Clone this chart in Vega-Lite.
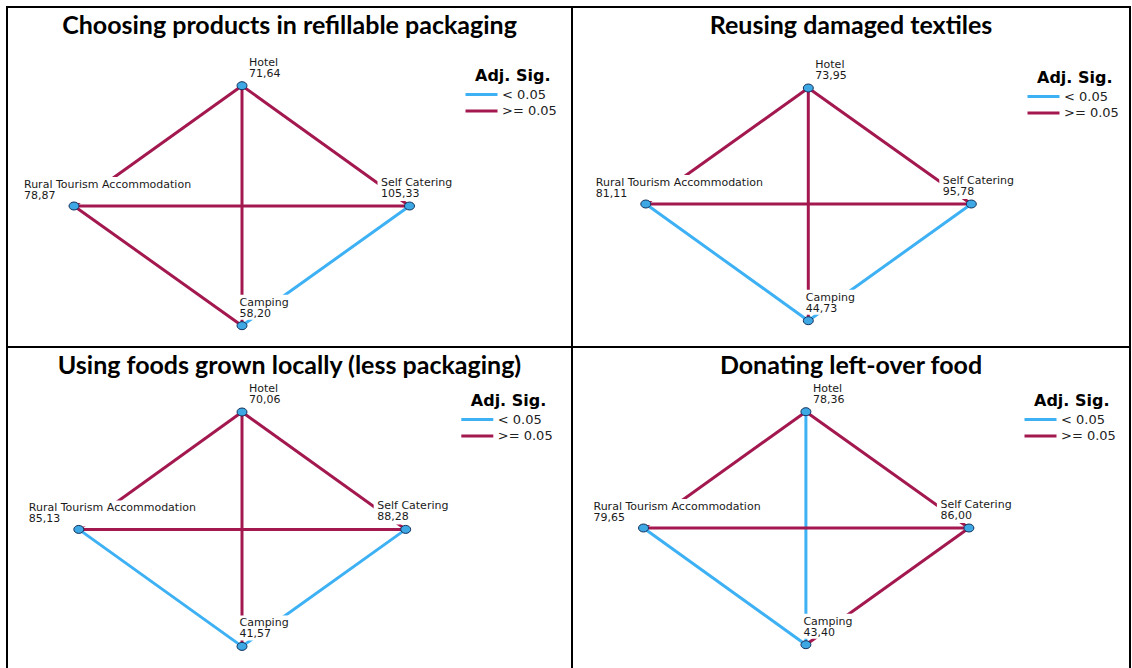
{
  "$schema": "https://vega.github.io/schema/vega-lite/v6.json",
  "padding": {"left": 6, "top": 6, "right": 0, "bottom": 0},
  "bounds": "flush",
  "spacing": 0,
  "columns": 2,
  "resolve": {"scale": {"color": "independent"}, "legend": {"color": "independent"}},
  "config": {
    "view": {"stroke": "#000000", "strokeWidth": 2},
    "locale": {"number": {"decimal": ",", "thousands": ".", "grouping": [3], "currency": ["", ""]}},
    "title": {"font": "Lato", "fontSize": 25, "fontWeight": "bold", "color": "#000000", "anchor": "middle", "frame": "group", "baseline": "alphabetic", "offset": -32},
    "legend": {"orient": "none", "titleFont": "DejaVu Sans", "titleFontSize": 16, "titleFontWeight": "bold", "titleColor": "#000000", "labelFont": "DejaVu Sans", "labelFontSize": 13, "labelColor": "#222222", "symbolType": "M-16,0H16", "symbolSize": 4, "symbolStrokeWidth": 3, "labelOffset": 14, "rowPadding": 2.5, "titlePadding": 4, "padding": 0}
  },
  "datasets": {
    "nodes": [
      {"id": "1H", "panel": 1, "node": "Hotel", "rank": 71.64, "x": 235, "y": 78.7},
      {"id": "1R", "panel": 1, "node": "Rural Tourism Accommodation", "rank": 78.87, "x": 67, "y": 199},
      {"id": "1S", "panel": 1, "node": "Self Catering", "rank": 105.33, "x": 402.5, "y": 199},
      {"id": "1C", "panel": 1, "node": "Camping", "rank": 58.20, "x": 235, "y": 318.7},
      {"id": "2H", "panel": 2, "node": "Hotel", "rank": 73.95, "x": 236.3, "y": 81},
      {"id": "2R", "panel": 2, "node": "Rural Tourism Accommodation", "rank": 81.11, "x": 73.8, "y": 197},
      {"id": "2S", "panel": 2, "node": "Self Catering", "rank": 95.78, "x": 399.3, "y": 197},
      {"id": "2C", "panel": 2, "node": "Camping", "rank": 44.73, "x": 236.3, "y": 313.7},
      {"id": "3H", "panel": 3, "node": "Hotel", "rank": 70.06, "x": 235, "y": 65},
      {"id": "3R", "panel": 3, "node": "Rural Tourism Accommodation", "rank": 85.13, "x": 71.8, "y": 182.4},
      {"id": "3S", "panel": 3, "node": "Self Catering", "rank": 88.28, "x": 398.7, "y": 182.4},
      {"id": "3C", "panel": 3, "node": "Camping", "rank": 41.57, "x": 235, "y": 299.4},
      {"id": "4H", "panel": 4, "node": "Hotel", "rank": 78.36, "x": 233.9, "y": 64.7},
      {"id": "4R", "panel": 4, "node": "Rural Tourism Accommodation", "rank": 79.65, "x": 71.5, "y": 181},
      {"id": "4S", "panel": 4, "node": "Self Catering", "rank": 86.00, "x": 396.9, "y": 181},
      {"id": "4C", "panel": 4, "node": "Camping", "rank": 43.40, "x": 233.9, "y": 297.7}
    ],
    "edges": [
      {"panel": 1, "source": "1H", "target": "1R", "sig": ">= 0.05"},
      {"panel": 1, "source": "1H", "target": "1S", "sig": ">= 0.05"},
      {"panel": 1, "source": "1H", "target": "1C", "sig": ">= 0.05"},
      {"panel": 1, "source": "1R", "target": "1S", "sig": ">= 0.05"},
      {"panel": 1, "source": "1R", "target": "1C", "sig": ">= 0.05"},
      {"panel": 1, "source": "1S", "target": "1C", "sig": "< 0.05"},
      {"panel": 2, "source": "2H", "target": "2R", "sig": ">= 0.05"},
      {"panel": 2, "source": "2H", "target": "2S", "sig": ">= 0.05"},
      {"panel": 2, "source": "2H", "target": "2C", "sig": ">= 0.05"},
      {"panel": 2, "source": "2R", "target": "2S", "sig": ">= 0.05"},
      {"panel": 2, "source": "2R", "target": "2C", "sig": "< 0.05"},
      {"panel": 2, "source": "2S", "target": "2C", "sig": "< 0.05"},
      {"panel": 3, "source": "3H", "target": "3R", "sig": ">= 0.05"},
      {"panel": 3, "source": "3H", "target": "3S", "sig": ">= 0.05"},
      {"panel": 3, "source": "3H", "target": "3C", "sig": ">= 0.05"},
      {"panel": 3, "source": "3R", "target": "3S", "sig": ">= 0.05"},
      {"panel": 3, "source": "3R", "target": "3C", "sig": "< 0.05"},
      {"panel": 3, "source": "3S", "target": "3C", "sig": "< 0.05"},
      {"panel": 4, "source": "4H", "target": "4R", "sig": ">= 0.05"},
      {"panel": 4, "source": "4H", "target": "4S", "sig": ">= 0.05"},
      {"panel": 4, "source": "4H", "target": "4C", "sig": "< 0.05"},
      {"panel": 4, "source": "4R", "target": "4S", "sig": ">= 0.05"},
      {"panel": 4, "source": "4R", "target": "4C", "sig": "< 0.05"},
      {"panel": 4, "source": "4S", "target": "4C", "sig": ">= 0.05"}
    ]
  },
  "concat": [
    {
      "width": 565, "height": 340,
      "title": "Choosing products in refillable packaging",
      "layer": [
        {"data": {"name": "edges"}, "transform": [{"filter": "datum.panel === 1"}, {"lookup": "source", "from": {"data": {"name": "nodes"}, "key": "id", "fields": ["x", "y"]}, "as": ["x1", "y1"]}, {"lookup": "target", "from": {"data": {"name": "nodes"}, "key": "id", "fields": ["x", "y"]}, "as": ["x2", "y2"]}],
         "mark": {"type": "rule", "strokeWidth": 3},
         "encoding": {"x": {"field": "x1", "type": "quantitative", "scale": {"domain": [0, 565], "nice": false, "zero": false}, "axis": null}, "y": {"field": "y1", "type": "quantitative", "scale": {"domain": [0, 340], "nice": false, "zero": false, "reverse": true}, "axis": null}, "x2": {"field": "x2"}, "y2": {"field": "y2"},
           "color": {"field": "sig", "type": "nominal", "scale": {"domain": ["< 0.05", ">= 0.05"], "range": ["#3db1f4", "#a3184f"]}, "legend": {"title": "Adj. Sig.", "legendX": 468, "legendY": 61}}}},
        {"data": {"name": "nodes"}, "transform": [{"filter": "datum.panel === 1"}],
         "mark": {"type": "point", "filled": true, "size": 4, "opacity": 1, "color": "#ffffff"},
         "encoding": {"x": {"field": "x", "type": "quantitative"}, "y": {"field": "y", "type": "quantitative"}, "shape": {"field": "node", "type": "nominal", "scale": {"domain": ["Hotel", "Rural Tourism Accommodation", "Self Catering", "Camping"], "range": ["M-2,-32H42V-5H-2Z", "M-52,-29H136V-3H-52Z", "M-32,-28H56V-5H-32Z", "M-4,-31H52V-6H-4Z"]}, "legend": null}}},
        {"data": {"name": "nodes"}, "transform": [{"filter": "datum.panel === 1"}],
         "mark": {"type": "point", "filled": true, "size": 4, "opacity": 1, "shape": "M-5,0A5,4 0 1,0 5,0A5,4 0 1,0 -5,0Z", "fill": "#3ea8e5", "stroke": "#16325c", "strokeWidth": 1},
         "encoding": {"x": {"field": "x", "type": "quantitative"}, "y": {"field": "y", "type": "quantitative"}}},
        {"data": {"name": "nodes"}, "transform": [{"filter": "datum.panel === 1"}],
         "mark": {"type": "text", "align": "left", "baseline": "alphabetic", "font": "DejaVu Sans", "fontSize": 11, "color": "#1a1a1a",
           "dx": {"expr": "datum.node === 'Hotel' ? 7 : datum.node === 'Camping' ? -2.5 : datum.node === 'Self Catering' ? -28.5 : -50"},
           "dy": {"expr": "datum.node === 'Rural Tourism Accommodation' ? -18 : -20"}},
         "encoding": {"x": {"field": "x", "type": "quantitative"}, "y": {"field": "y", "type": "quantitative"}, "text": {"field": "node"}}},
        {"data": {"name": "nodes"}, "transform": [{"filter": "datum.panel === 1"}],
         "mark": {"type": "text", "align": "left", "baseline": "alphabetic", "font": "DejaVu Sans", "fontSize": 11, "color": "#1a1a1a",
           "dx": {"expr": "datum.node === 'Hotel' ? 7 : datum.node === 'Camping' ? -2.5 : datum.node === 'Self Catering' ? -28.5 : -50"},
           "dy": {"expr": "datum.node === 'Rural Tourism Accommodation' ? -7 : -9"}},
         "encoding": {"x": {"field": "x", "type": "quantitative"}, "y": {"field": "y", "type": "quantitative"}, "text": {"field": "rank", "type": "quantitative", "format": ".2f"}}}
      ]
    },
    {
      "width": 558, "height": 340,
      "title": "Reusing damaged textiles",
      "layer": [
        {"data": {"name": "edges"}, "transform": [{"filter": "datum.panel === 2"}, {"lookup": "source", "from": {"data": {"name": "nodes"}, "key": "id", "fields": ["x", "y"]}, "as": ["x1", "y1"]}, {"lookup": "target", "from": {"data": {"name": "nodes"}, "key": "id", "fields": ["x", "y"]}, "as": ["x2", "y2"]}],
         "mark": {"type": "rule", "strokeWidth": 3},
         "encoding": {"x": {"field": "x1", "type": "quantitative", "scale": {"domain": [0, 558], "nice": false, "zero": false}, "axis": null}, "y": {"field": "y1", "type": "quantitative", "scale": {"domain": [0, 340], "nice": false, "zero": false, "reverse": true}, "axis": null}, "x2": {"field": "x2"}, "y2": {"field": "y2"},
           "color": {"field": "sig", "type": "nominal", "scale": {"domain": ["< 0.05", ">= 0.05"], "range": ["#3db1f4", "#a3184f"]}, "legend": {"title": "Adj. Sig.", "legendX": 465, "legendY": 63}}}},
        {"data": {"name": "nodes"}, "transform": [{"filter": "datum.panel === 2"}],
         "mark": {"type": "point", "filled": true, "size": 4, "opacity": 1, "color": "#ffffff"},
         "encoding": {"x": {"field": "x", "type": "quantitative"}, "y": {"field": "y", "type": "quantitative"}, "shape": {"field": "node", "type": "nominal", "scale": {"domain": ["Hotel", "Rural Tourism Accommodation", "Self Catering", "Camping"], "range": ["M-2,-32H42V-5H-2Z", "M-52,-29H136V-3H-52Z", "M-32,-28H56V-5H-32Z", "M-4,-31H52V-6H-4Z"]}, "legend": null}}},
        {"data": {"name": "nodes"}, "transform": [{"filter": "datum.panel === 2"}],
         "mark": {"type": "point", "filled": true, "size": 4, "opacity": 1, "shape": "M-5,0A5,4 0 1,0 5,0A5,4 0 1,0 -5,0Z", "fill": "#3ea8e5", "stroke": "#16325c", "strokeWidth": 1},
         "encoding": {"x": {"field": "x", "type": "quantitative"}, "y": {"field": "y", "type": "quantitative"}}},
        {"data": {"name": "nodes"}, "transform": [{"filter": "datum.panel === 2"}],
         "mark": {"type": "text", "align": "left", "baseline": "alphabetic", "font": "DejaVu Sans", "fontSize": 11, "color": "#1a1a1a",
           "dx": {"expr": "datum.node === 'Hotel' ? 7 : datum.node === 'Camping' ? -2.5 : datum.node === 'Self Catering' ? -28.5 : -50"},
           "dy": {"expr": "datum.node === 'Rural Tourism Accommodation' ? -18 : -20"}},
         "encoding": {"x": {"field": "x", "type": "quantitative"}, "y": {"field": "y", "type": "quantitative"}, "text": {"field": "node"}}},
        {"data": {"name": "nodes"}, "transform": [{"filter": "datum.panel === 2"}],
         "mark": {"type": "text", "align": "left", "baseline": "alphabetic", "font": "DejaVu Sans", "fontSize": 11, "color": "#1a1a1a",
           "dx": {"expr": "datum.node === 'Hotel' ? 7 : datum.node === 'Camping' ? -2.5 : datum.node === 'Self Catering' ? -28.5 : -50"},
           "dy": {"expr": "datum.node === 'Rural Tourism Accommodation' ? -7 : -9"}},
         "encoding": {"x": {"field": "x", "type": "quantitative"}, "y": {"field": "y", "type": "quantitative"}, "text": {"field": "rank", "type": "quantitative", "format": ".2f"}}}
      ]
    },
    {
      "width": 565, "height": 322,
      "title": "Using foods grown locally (less packaging)",
      "layer": [
        {"data": {"name": "edges"}, "transform": [{"filter": "datum.panel === 3"}, {"lookup": "source", "from": {"data": {"name": "nodes"}, "key": "id", "fields": ["x", "y"]}, "as": ["x1", "y1"]}, {"lookup": "target", "from": {"data": {"name": "nodes"}, "key": "id", "fields": ["x", "y"]}, "as": ["x2", "y2"]}],
         "mark": {"type": "rule", "strokeWidth": 3},
         "encoding": {"x": {"field": "x1", "type": "quantitative", "scale": {"domain": [0, 565], "nice": false, "zero": false}, "axis": null}, "y": {"field": "y1", "type": "quantitative", "scale": {"domain": [0, 322], "nice": false, "zero": false, "reverse": true}, "axis": null}, "x2": {"field": "x2"}, "y2": {"field": "y2"},
           "color": {"field": "sig", "type": "nominal", "scale": {"domain": ["< 0.05", ">= 0.05"], "range": ["#3db1f4", "#a3184f"]}, "legend": {"title": "Adj. Sig.", "legendX": 463.8, "legendY": 46}}}},
        {"data": {"name": "nodes"}, "transform": [{"filter": "datum.panel === 3"}],
         "mark": {"type": "point", "filled": true, "size": 4, "opacity": 1, "color": "#ffffff"},
         "encoding": {"x": {"field": "x", "type": "quantitative"}, "y": {"field": "y", "type": "quantitative"}, "shape": {"field": "node", "type": "nominal", "scale": {"domain": ["Hotel", "Rural Tourism Accommodation", "Self Catering", "Camping"], "range": ["M-2,-32H42V-5H-2Z", "M-52,-29H136V-3H-52Z", "M-32,-28H56V-5H-32Z", "M-4,-31H52V-6H-4Z"]}, "legend": null}}},
        {"data": {"name": "nodes"}, "transform": [{"filter": "datum.panel === 3"}],
         "mark": {"type": "point", "filled": true, "size": 4, "opacity": 1, "shape": "M-5,0A5,4 0 1,0 5,0A5,4 0 1,0 -5,0Z", "fill": "#3ea8e5", "stroke": "#16325c", "strokeWidth": 1},
         "encoding": {"x": {"field": "x", "type": "quantitative"}, "y": {"field": "y", "type": "quantitative"}}},
        {"data": {"name": "nodes"}, "transform": [{"filter": "datum.panel === 3"}],
         "mark": {"type": "text", "align": "left", "baseline": "alphabetic", "font": "DejaVu Sans", "fontSize": 11, "color": "#1a1a1a",
           "dx": {"expr": "datum.node === 'Hotel' ? 7 : datum.node === 'Camping' ? -2.5 : datum.node === 'Self Catering' ? -28.5 : -50"},
           "dy": {"expr": "datum.node === 'Rural Tourism Accommodation' ? -18 : -20"}},
         "encoding": {"x": {"field": "x", "type": "quantitative"}, "y": {"field": "y", "type": "quantitative"}, "text": {"field": "node"}}},
        {"data": {"name": "nodes"}, "transform": [{"filter": "datum.panel === 3"}],
         "mark": {"type": "text", "align": "left", "baseline": "alphabetic", "font": "DejaVu Sans", "fontSize": 11, "color": "#1a1a1a",
           "dx": {"expr": "datum.node === 'Hotel' ? 7 : datum.node === 'Camping' ? -2.5 : datum.node === 'Self Catering' ? -28.5 : -50"},
           "dy": {"expr": "datum.node === 'Rural Tourism Accommodation' ? -7 : -9"}},
         "encoding": {"x": {"field": "x", "type": "quantitative"}, "y": {"field": "y", "type": "quantitative"}, "text": {"field": "rank", "type": "quantitative", "format": ".2f"}}}
      ]
    },
    {
      "width": 558, "height": 322,
      "title": "Donating left-over food",
      "layer": [
        {"data": {"name": "edges"}, "transform": [{"filter": "datum.panel === 4"}, {"lookup": "source", "from": {"data": {"name": "nodes"}, "key": "id", "fields": ["x", "y"]}, "as": ["x1", "y1"]}, {"lookup": "target", "from": {"data": {"name": "nodes"}, "key": "id", "fields": ["x", "y"]}, "as": ["x2", "y2"]}],
         "mark": {"type": "rule", "strokeWidth": 3},
         "encoding": {"x": {"field": "x1", "type": "quantitative", "scale": {"domain": [0, 558], "nice": false, "zero": false}, "axis": null}, "y": {"field": "y1", "type": "quantitative", "scale": {"domain": [0, 322], "nice": false, "zero": false, "reverse": true}, "axis": null}, "x2": {"field": "x2"}, "y2": {"field": "y2"},
           "color": {"field": "sig", "type": "nominal", "scale": {"domain": ["< 0.05", ">= 0.05"], "range": ["#3db1f4", "#a3184f"]}, "legend": {"title": "Adj. Sig.", "legendX": 462, "legendY": 46}}}},
        {"data": {"name": "nodes"}, "transform": [{"filter": "datum.panel === 4"}],
         "mark": {"type": "point", "filled": true, "size": 4, "opacity": 1, "color": "#ffffff"},
         "encoding": {"x": {"field": "x", "type": "quantitative"}, "y": {"field": "y", "type": "quantitative"}, "shape": {"field": "node", "type": "nominal", "scale": {"domain": ["Hotel", "Rural Tourism Accommodation", "Self Catering", "Camping"], "range": ["M-2,-32H42V-5H-2Z", "M-52,-29H136V-3H-52Z", "M-32,-28H56V-5H-32Z", "M-4,-31H52V-6H-4Z"]}, "legend": null}}},
        {"data": {"name": "nodes"}, "transform": [{"filter": "datum.panel === 4"}],
         "mark": {"type": "point", "filled": true, "size": 4, "opacity": 1, "shape": "M-5,0A5,4 0 1,0 5,0A5,4 0 1,0 -5,0Z", "fill": "#3ea8e5", "stroke": "#16325c", "strokeWidth": 1},
         "encoding": {"x": {"field": "x", "type": "quantitative"}, "y": {"field": "y", "type": "quantitative"}}},
        {"data": {"name": "nodes"}, "transform": [{"filter": "datum.panel === 4"}],
         "mark": {"type": "text", "align": "left", "baseline": "alphabetic", "font": "DejaVu Sans", "fontSize": 11, "color": "#1a1a1a",
           "dx": {"expr": "datum.node === 'Hotel' ? 7 : datum.node === 'Camping' ? -2.5 : datum.node === 'Self Catering' ? -28.5 : -50"},
           "dy": {"expr": "datum.node === 'Rural Tourism Accommodation' ? -18 : -20"}},
         "encoding": {"x": {"field": "x", "type": "quantitative"}, "y": {"field": "y", "type": "quantitative"}, "text": {"field": "node"}}},
        {"data": {"name": "nodes"}, "transform": [{"filter": "datum.panel === 4"}],
         "mark": {"type": "text", "align": "left", "baseline": "alphabetic", "font": "DejaVu Sans", "fontSize": 11, "color": "#1a1a1a",
           "dx": {"expr": "datum.node === 'Hotel' ? 7 : datum.node === 'Camping' ? -2.5 : datum.node === 'Self Catering' ? -28.5 : -50"},
           "dy": {"expr": "datum.node === 'Rural Tourism Accommodation' ? -7 : -9"}},
         "encoding": {"x": {"field": "x", "type": "quantitative"}, "y": {"field": "y", "type": "quantitative"}, "text": {"field": "rank", "type": "quantitative", "format": ".2f"}}}
      ]
    }
  ]
}
